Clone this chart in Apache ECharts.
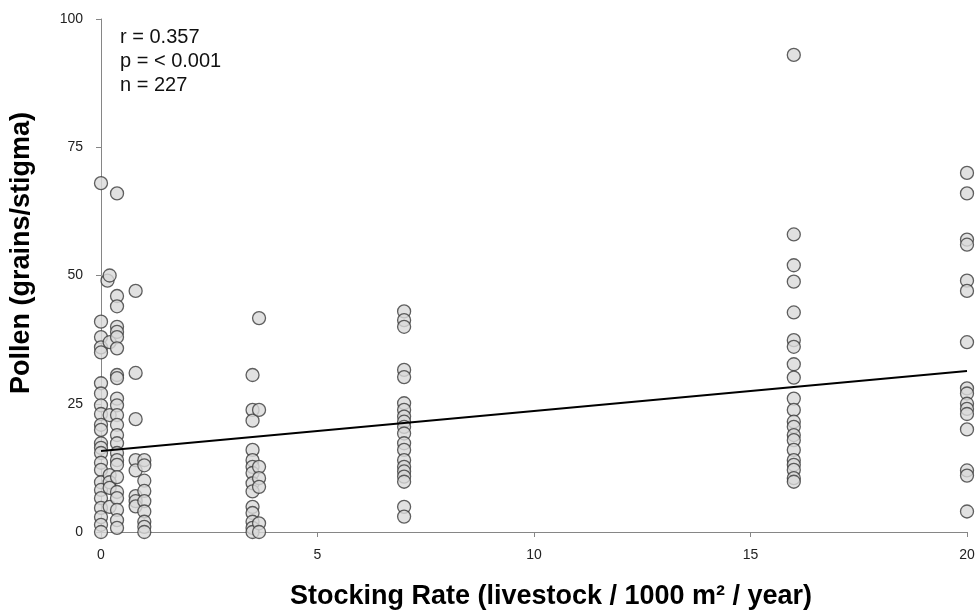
<!DOCTYPE html>
<html>
<head>
<meta charset="utf-8">
<script src="https://cdn.jsdelivr.net/npm/echarts@6/dist/echarts.min.js"></script>
<style>html,body{margin:0;padding:0;background:#fff}#c{width:980px;height:614px}</style>
</head>
<body>
<div id="c"></div>
<script>
// Stocking rate groups (x) and pollen values (y)
var xAxisTicks = [0, 5, 10, 15, 20];
var yAxisTicks = [0, 25, 50, 75, 100];
var xTitle = 'Stocking Rate (livestock / 1000 m² / year)';
var yTitle = 'Pollen (grains/stigma)';

var x0_00 = [68, 41, 38, 36, 35, 29, 27, 24.7, 23, 20.9, 19.9, 17.3, 16.4, 15.4, 13.5, 12.1, 9.7, 8.2, 6.6, 4.7, 2.9, 1.4, 0];
var x0_15 = [49];
var x0_20 = [50, 37, 22.8, 11.1, 9.7, 8.6, 4.9];
var x0_37 = [66, 46, 44, 40, 39, 38, 35.8, 30.6, 30, 26, 24.7, 22.8, 20.9, 18.9, 17.3, 15.4, 14, 13.1, 10.7, 7.8, 6.6, 4.3, 2.3, 0.8];
var x0_80 = [47, 31, 22, 14, 12, 7, 6, 5];
var x1_00 = [14, 13, 10, 8, 6, 4, 2, 1, 0];
var x3_50 = [30.6, 23.8, 21.7, 16, 14, 12.7, 11.5, 9.5, 7.9, 4.9, 3.7, 2, 0.8, 0];
var x3_65 = [41.7, 23.8, 12.7, 10.5, 8.8, 1.7, 0];
var x7_00 = [43, 41.3, 40, 31.6, 30.2, 25.1, 23.8, 22.5, 21.5, 20.5, 19.2, 17.3, 16, 14, 12.7, 11.8, 10.8, 9.8, 4.9, 3.0];
var x16_00 = [93, 58, 52, 48.8, 42.8, 37.4, 36.1, 32.7, 30.1, 26, 23.8, 21.5, 20.5, 18.9, 17.9, 16, 14, 13.1, 12.1, 10.5, 9.8];
var x20_00 = [70, 66, 57, 56, 49, 47, 37, 28, 27, 25, 24, 23, 20, 12, 11, 4];

var groupX = [0, 0.15, 0.2, 0.37, 0.8, 1.0, 3.5, 3.65, 7.0, 16.0, 20.0];
var groupY = [x0_00, x0_15, x0_20, x0_37, x0_80, x1_00, x3_50, x3_65, x7_00, x16_00, x20_00];

var trendX = [0, 20];
var trendY = [15.8, 31.4];

var statLines = ['r = 0.357', 'p = < 0.001', 'n = 227'];

var points = [];
groupX.forEach(function (gx, i) {
  groupY[i].forEach(function (v) { points.push([gx, v]); });
});
var trend = trendX.map(function (x, i) { return [x, trendY[i]]; });

var chart = echarts.init(document.getElementById('c'), null, { renderer: 'canvas' });
var axisColor = '#868686';
var ff = 'Liberation Sans, Arial, sans-serif';
var graphics = statLines.map(function (t, i) {
  return {
    type: 'text', left: 120, top: 27 + i * 24,
    style: { text: t, fontFamily: ff, fontSize: 20, fill: '#111' }
  };
});
graphics.push({
  type: 'text', x: 551, y: 597,
  style: { text: xTitle, fontFamily: ff, fontWeight: 'bold', fontSize: 27, fill: '#000', align: 'center', verticalAlign: 'middle' }
});
graphics.push({
  type: 'text', x: 22, y: 253, rotation: Math.PI / 2,
  style: { text: yTitle, fontFamily: ff, fontWeight: 'bold', fontSize: 27, fill: '#000', align: 'center', verticalAlign: 'middle' }
});
chart.setOption({
  animation: false,
  backgroundColor: '#ffffff',
  grid: { left: 101, right: 13, top: 19, bottom: 82, containLabel: false, outerBoundsMode: 'none' },
  xAxis: {
    type: 'value', min: 0, max: 20, interval: 5,
    axisLine: { show: true, onZero: false, lineStyle: { color: axisColor, width: 1 } },
    axisTick: { show: true, inside: false, length: 5, lineStyle: { color: axisColor } },
    axisLabel: { margin: 16, fontFamily: ff, fontSize: 14, color: '#222',
      formatter: function (v) { return xAxisTicks.indexOf(v) >= 0 ? String(v) : ''; } },
    splitLine: { show: false }
  },
  yAxis: {
    type: 'value', min: 0, max: 100, interval: 25,
    axisLine: { show: true, onZero: false, lineStyle: { color: axisColor, width: 1 } },
    axisTick: { show: true, inside: false, length: 5, lineStyle: { color: axisColor } },
    axisLabel: { margin: 18, fontFamily: ff, fontSize: 14, color: '#222',
      formatter: function (v) { return yAxisTicks.indexOf(v) >= 0 ? String(v) : ''; } },
    splitLine: { show: false }
  },
  series: [
    {
      type: 'line', data: trend, symbol: 'none', z: 3,
      lineStyle: { color: '#000', width: 2 }, silent: true
    },
    {
      type: 'scatter', data: points, symbol: 'circle', symbolSize: 13, clip: false, z: 2,
      itemStyle: { color: '#d9d9d9', borderColor: '#3a3a3a', borderWidth: 1.3 }
    }
  ],
  graphic: graphics
});
</script>
</body>
</html>
